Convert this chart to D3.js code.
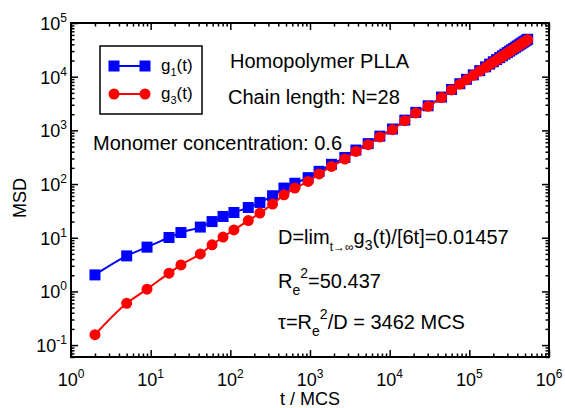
<!DOCTYPE html>
<html>
<head>
<meta charset="utf-8">
<script src="https://cdn.jsdelivr.net/npm/d3@7"></script>
<style>
  body { margin: 0; background: #fff; }
  text { font-family: "Liberation Sans", Arial, Helvetica, sans-serif; }
</style>
</head>
<body>
<script>
// time points (MCS)
const tValues = [2, 5, 9, 17, 24, 42, 59, 81, 111, 168, 235, 339, 471, 646, 948, 1300, 1860, 2740, 3770, 5370,
  7530, 10860, 15500, 21300, 30400, 44800, 59800, 76000, 92000, 112000, 135000, 160000, 180000, 200000,
  220000, 240000, 260000, 280000, 300000, 320000, 340000, 360000, 380000, 400000, 420000, 440000, 460000,
  480000, 500000, 520000, 540000];

// g1(t), blue squares
const g1Values = [2.03, 4.59, 6.68, 10.1, 12.5, 15.8, 20.0, 24.9, 29.5, 36.6, 45.4, 60.5, 84.1, 103.5, 131.5,
  172.6, 233, 313, 430, 566, 780, 1059, 1552, 2163, 2871, 4169, 5794, 7405, 8925, 10800, 12950, 15260,
  17130, 18950, 20800, 22620, 24470, 26300, 28110, 29940, 31750, 33580, 35380, 37200, 38990, 40810,
  42610, 44400, 46220, 48010, 49800];

// g3(t), red circles
const g3Values = [0.156, 0.60, 1.10, 2.19, 3.12, 5.0, 7.38, 10.3, 14.0, 20.9, 28.8, 42.4, 63, 84, 112, 154,
  213, 292, 406, 541, 753, 1030, 1517, 2113, 2805, 4074, 5662, 7260, 8750, 10590, 12700, 14960, 16790,
  18580, 20390, 22180, 23990, 25780, 27560, 29350, 31130, 32920, 34690, 36470, 38230, 40010, 41770,
  43530, 45310, 47070, 48820];

const xExponents = [0, 1, 2, 3, 4, 5, 6];
const yExponents = [-1, 0, 1, 2, 3, 4, 5];

const width = 565;
const height = 408;
const margin = {top: 23, right: 16, bottom: 51, left: 71};

const x = d3.scaleLog()
  .domain([1, 1e6])
  .range([margin.left, width - margin.right]);

const y = d3.scaleLog()
  .domain([0.06, 1e5])
  .range([height - margin.bottom, margin.top]);

const svg = d3.select('body')
  .append('svg')
  .attr('width', width)
  .attr('height', height);

const isMajor = (v) => Math.abs(Math.log10(v) - Math.round(Math.log10(v))) < 1e-9;
const xMinor = x.ticks().filter((v) => !isMajor(v));
const yMinor = y.ticks().filter((v) => !isMajor(v));
const xMajor = xExponents.map((e) => Math.pow(10, e));
const yMajor = yExponents.map((e) => Math.pow(10, e));

const x0 = margin.left, x1 = width - margin.right;
const y0 = height - margin.bottom, y1 = margin.top;

// inward ticks on all four sides
const addAxis = (axisFn, scale, values, size, transform) => {
  const g = svg.append('g')
    .attr('transform', transform)
    .call(axisFn(scale).tickValues(values).tickSize(-size).tickFormat(''));
  g.select('.domain').remove();
  g.selectAll('line').attr('stroke', '#000').attr('stroke-width', 1.5);
};

addAxis(d3.axisBottom, x, xMinor, 3.5, `translate(0,${y0})`);
addAxis(d3.axisBottom, x, xMajor, 7, `translate(0,${y0})`);
addAxis(d3.axisTop, x, xMinor, 3.5, `translate(0,${y1})`);
addAxis(d3.axisTop, x, xMajor, 7, `translate(0,${y1})`);
addAxis(d3.axisLeft, y, yMinor, 3.5, `translate(${x0},0)`);
addAxis(d3.axisLeft, y, yMajor, 7, `translate(${x0},0)`);
addAxis(d3.axisRight, y, yMinor, 3.5, `translate(${x1},0)`);
addAxis(d3.axisRight, y, yMajor, 7, `translate(${x1},0)`);

// frame
svg.append('rect')
  .attr('x', x0)
  .attr('y', y1)
  .attr('width', x1 - x0)
  .attr('height', y0 - y1)
  .attr('fill', 'none')
  .attr('stroke', '#000')
  .attr('stroke-width', 2);

// tick labels, 10 with superscript exponent
const xLab = svg.append('g')
  .selectAll('text')
  .data(xExponents)
  .enter()
  .append('text')
  .attr('x', (d) => x(Math.pow(10, d)))
  .attr('y', 386)
  .attr('text-anchor', 'middle')
  .attr('font-size', 18);
xLab.append('tspan').text('10');
xLab.append('tspan').attr('dy', -8).attr('font-size', 12).text((d) => d);

const yLab = svg.append('g')
  .selectAll('text')
  .data(yExponents)
  .enter()
  .append('text')
  .attr('x', 67)
  .attr('y', (d) => y(Math.pow(10, d)) + 7)
  .attr('text-anchor', 'end')
  .attr('font-size', 18);
yLab.append('tspan').text('10');
yLab.append('tspan').attr('dy', -8).attr('font-size', 12).text((d) => d);

// axis titles
svg.append('text')
  .attr('x', (x0 + x1) / 2)
  .attr('y', 405)
  .attr('text-anchor', 'middle')
  .attr('font-size', 18)
  .text('t / MCS');

svg.append('text')
  .attr('transform', `translate(26,${(y0 + y1) / 2 + 8}) rotate(-90)`)
  .attr('text-anchor', 'middle')
  .attr('font-size', 18)
  .text('MSD');

// series
const g1Data = tValues.map((t, i) => ({t: t, v: g1Values[i]}));
const g3Data = tValues.map((t, i) => ({t: t, v: g3Values[i]}));

const line = d3.line()
  .x((d) => x(d.t))
  .y((d) => y(d.v))
  .curve(d3.curveMonotoneX);

svg.append('path')
  .datum(g1Data)
  .attr('d', line)
  .attr('fill', 'none')
  .attr('stroke', '#0000ff')
  .attr('stroke-width', 2);

svg.append('g')
  .selectAll('rect')
  .data(g1Data)
  .enter()
  .append('rect')
  .attr('x', (d) => x(d.t) - 5.5)
  .attr('y', (d) => y(d.v) - 5.5)
  .attr('width', 11)
  .attr('height', 11)
  .attr('fill', '#0000ff');

svg.append('path')
  .datum(g3Data)
  .attr('d', line)
  .attr('fill', 'none')
  .attr('stroke', '#ff0000')
  .attr('stroke-width', 2);

svg.append('g')
  .selectAll('circle')
  .data(g3Data)
  .enter()
  .append('circle')
  .attr('cx', (d) => x(d.t))
  .attr('cy', (d) => y(d.v))
  .attr('r', 5.5)
  .attr('fill', '#ff0000');

// legend
const legend = svg.append('g');
legend.append('rect')
  .attr('x', 100).attr('y', 46).attr('width', 102).attr('height', 68)
  .attr('fill', '#fff').attr('stroke', '#000').attr('stroke-width', 1.5);

legend.append('line')
  .attr('x1', 114).attr('x2', 145).attr('y1', 66).attr('y2', 66)
  .attr('stroke', '#0000ff').attr('stroke-width', 2);
legend.selectAll('rect.mk')
  .data([114, 145])
  .enter()
  .append('rect')
  .attr('class', 'mk')
  .attr('x', (d) => d - 5.5).attr('y', 60.5)
  .attr('width', 11).attr('height', 11)
  .attr('fill', '#0000ff');

legend.append('line')
  .attr('x1', 114).attr('x2', 145).attr('y1', 94).attr('y2', 94)
  .attr('stroke', '#ff0000').attr('stroke-width', 2);
legend.selectAll('circle')
  .data([114, 145])
  .enter()
  .append('circle')
  .attr('cx', (d) => d).attr('cy', 94).attr('r', 5.5)
  .attr('fill', '#ff0000');

const legText = (yy, sub) => {
  const t = legend.append('text').attr('x', 161).attr('y', yy).attr('font-size', 17);
  t.append('tspan').text('g');
  t.append('tspan').attr('dy', 5).attr('font-size', 11).text(sub);
  t.append('tspan').attr('dy', -5).text('(t)');
};
legText(71, '1');
legText(99, '3');

// annotations
const note = (xx, yy) => svg.append('text').attr('x', xx).attr('y', yy).attr('font-size', 20);

note(230, 68).text('Homopolymer PLLA');
note(228, 104).text('Chain length: N=28');
note(93, 150).text('Monomer concentration: 0.6');

const dText = note(278, 244);
dText.append('tspan').text('D=lim');
dText.append('tspan').attr('dy', 7).attr('font-size', 12).text('t\u2192\u221e');
dText.append('tspan').attr('dy', -7).text('g');
dText.append('tspan').attr('dy', 6).attr('font-size', 14).text('3');
dText.append('tspan').attr('dy', -6).text('(t)/[6t]=0.01457');

const rText = note(278, 288);
rText.append('tspan').text('R');
rText.append('tspan').attr('dy', 7).attr('font-size', 14).text('e');
rText.append('tspan').attr('dy', -17).attr('font-size', 14).text('2');
rText.append('tspan').attr('dy', 10).text('=50.437');

const tauText = note(278, 329);
tauText.append('tspan').text('\u03c4=R');
tauText.append('tspan').attr('dy', 7).attr('font-size', 14).text('e');
tauText.append('tspan').attr('dy', -17).attr('font-size', 14).text('2');
tauText.append('tspan').attr('dy', 10).text('/D = 3462 MCS');
</script>
</body>
</html>
